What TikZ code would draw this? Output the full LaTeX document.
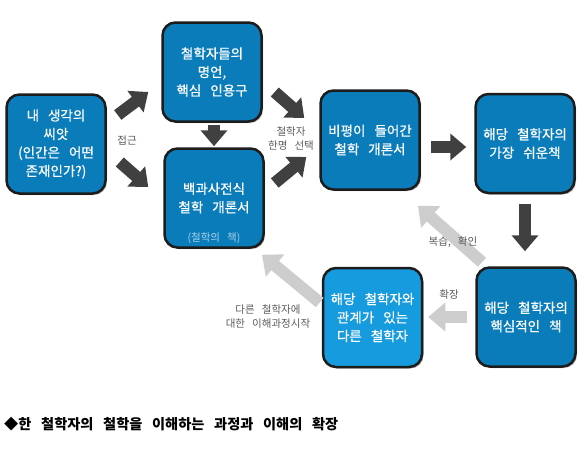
\documentclass[tikz,border=0pt]{standalone}
\usepackage{fontspec}
\setmainfont{Noto Sans CJK KR}[WordSpace=3]
\newfontfamily\boxfont{Noto Sans CJK KR}[WordSpace=3,FakeBold=0.6]
\usetikzlibrary{arrows.meta,shadows,calc}
\definecolor{boxblue}{RGB}{10,124,186}
\definecolor{boxlight}{RGB}{22,156,222}
\definecolor{boxline}{RGB}{28,28,28}
\definecolor{arrowdark}{RGB}{64,64,64}
\definecolor{arrowlight}{RGB}{205,205,205}
\definecolor{labelgray}{RGB}{90,90,90}
\begin{document}
\begin{tikzpicture}[x=1pt,y=-1pt,
  box/.style={draw=boxline, line width=2.5pt, rounded corners=13pt, fill=boxblue,
    minimum width=99pt, minimum height=99pt, align=center, text=white,
    font=\boxfont\fontsize{13.5}{18.5}\selectfont,
    drop shadow={shadow xshift=1.5pt,shadow yshift=-1.5pt,fill=black,opacity=0.3}},
  darr/.style={line width=12pt, draw=arrowdark, -{Triangle[width=26pt,length=16pt]}},
  larr/.style={line width=12pt, draw=arrowlight, -{Triangle[width=28pt,length=17pt]}},
  lbl/.style={text=labelgray, align=center, font=\fontsize{10.5}{14}\selectfont}]
\useasboundingbox (0,0) rectangle (580,453);

\node[box] (b1) at (56,144) {내 생각의\\씨앗\\(인간은 어떤\\존재인가?)};
\node[box] (b2) at (212,72) {철학자들의\\명언,\\핵심 인용구};
\node[box] (b3) at (214,198) {백과사전식\\철학 개론서};
\node[text=white!65!boxblue, font=\fontsize{10.5}{12}\selectfont] (b3s) at ($(b3.south)+(0,-11)$) {(철학의 책)};
\node[box] (b4) at (370,140) {비평이 들어간\\철학 개론서};
\node[box] (b5) at (525,143.5) {해당 철학자의\\가장 쉬운책};
\node[box] (b6) at (526,317) {해당 철학자의\\핵심적인 책};
\node[box, fill=boxlight] (b7) at (372.5,317.5) {해당 철학자와\\관계가 있는\\다른 철학자};

\draw[darr] ($(b1.east)+(11,-29)$) -- ($(b2.west)+(-13,20)$);
\draw[darr] ($(b1.east)+(13,18)$) -- ($(b3.west)+(-15,-11)$);
\draw[darr] ($(b2.south)+(2,2)$) -- ($(b3.north)+(0,-1)$);
\draw[darr] ($(b2.east)+(12,20)$) -- ($(b4.west)+(-15,-22)$);
\draw[darr] ($(b3.east)+(10,-15)$) -- ($(b4.west)+(-13,17)$);
\draw[darr] ($(b4.east)+(10,7)$) -- ($(b5.west)+(-8,3.5)$);
\draw[darr] ($(b5.south)+(0,10)$) -- ($(b6.north)+(-1,-15)$);

\draw[larr] ($(b6.west)+(-8,0)$) -- ($(b7.east)+(5,-0.5)$);
\draw[larr] ($(b6.north)+(-44,-4)$) -- ($(b4.south)+(48,15)$);
\draw[larr] ($(b7.west)+(-2,-15)$) -- ($(b3.south)+(48,6)$);

\node[lbl] (l1) at (127,141) {접근};
\node[lbl] (l2) at (291,139) {철학자\\한명 선택};
\node[lbl] (l3) at (453,242) {복습, 확인};
\node[lbl] (l4) at (449,295) {확장};
\node[lbl] (l5) at (268,317) {다른 철학자에\\대한 이해과정시작};

\node[anchor=west, inner sep=0pt, font=\fontsize{14.2}{16}\selectfont\bfseries] (cap) at (4,424) {◆한 철학자의 철학을 이해하는 과정과 이해의 확장};
\end{tikzpicture}
\end{document}
